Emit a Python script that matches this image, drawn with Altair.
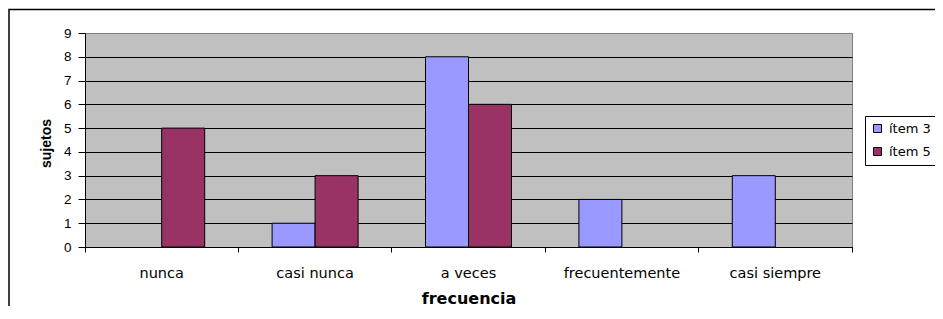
import altair as alt
import pandas as pd

categories = ["nunca", "casi nunca", "a veces", "frecuentemente", "casi siempre"]
series = ["ítem 3", "ítem 5"]
item3 = [0, 1, 8, 2, 3]
item5 = [5, 3, 6, 0, 0]
y_ticks = [0, 1, 2, 3, 4, 5, 6, 7, 8, 9]
colors = ["#9999FF", "#993366"]

rows = []
for c, a, b in zip(categories, item3, item5):
    rows.append({"frecuencia": c, "serie": series[0], "sujetos": a})
    rows.append({"frecuencia": c, "serie": series[1], "sujetos": b})
df = pd.DataFrame(rows)

W, H = 767, 214

bars = (
    alt.Chart(df)
    .transform_filter("datum.sujetos > 0")
    .mark_bar(stroke="black", strokeWidth=1)
    .encode(
        x=alt.X(
            "frecuencia:N",
            sort=categories,
            scale=alt.Scale(domain=categories, paddingInner=0, paddingOuter=0),
            axis=alt.Axis(
                title="frecuencia",
                labelAngle=0,
                bandPosition=1,
                tickExtra=True,
                tickSize=5,
                tickColor="black",
                domainColor="black",
                labelFont="DejaVu Sans",
                labelFontSize=14.5,
                labelColor="black",
                labelPadding=14,
                titleFont="DejaVu Sans",
                titleFontSize=16,
                titleFontWeight="bold",
                titleColor="black",
                titleX=W / 2,
                titleY=56,
                titleAlign="center",
                titleBaseline="alphabetic",
            ),
        ),
        xOffset=alt.XOffset(
            "serie:N",
            scale=alt.Scale(domain=series, paddingInner=0, paddingOuter=0.7837),
        ),
        y=alt.Y(
            "sujetos:Q",
            scale=alt.Scale(domain=[0, 9], nice=False),
            axis=alt.Axis(
                title="sujetos",
                values=y_ticks,
                grid=True,
                gridColor={"condition": {"test": "datum.value === 9", "value": "#808080"}, "value": "black"},
                gridWidth=1,
                tickSize=7,
                tickColor="black",
                domainColor="black",
                labelFont="Liberation Sans",
                labelFontSize=13.5,
                labelColor="black",
                labelPadding=7,
                titleFont="Liberation Sans",
                titleFontSize=14,
                titleFontWeight="bold",
                titleColor="black",
                titleAngle=270,
                titleX=-35,
                titleY=110,
                titleAlign="center",
                titleBaseline="alphabetic",
            ),
        ),
        color=alt.Color(
            "serie:N",
            scale=alt.Scale(domain=series, range=colors),
            legend=alt.Legend(
                title=None,
                orient="none",
                legendX=780,
                legendY=83,
                strokeColor="black",
                fillColor="white",
                padding=6,
                rowPadding=9,
                symbolType="square",
                symbolSize=64,
                symbolStrokeColor="black",
                symbolStrokeWidth=1,
                symbolOpacity=1,
                labelFont="DejaVu Sans",
                labelFontSize=13,
                labelColor="black",
                labelOffset=5,
            ),
        ),
    )
)

frame = (
    alt.Chart(alt.Data(values=[{"k": 1}]))
    .mark_rect(filled=False, stroke="black", strokeWidth=1.5)
    .encode(
        x=alt.value(-76),
        x2=alt.value(1500),
        y=alt.value(-23.5),
        y2=alt.value(1000),
    )
)

chart = (
    alt.layer(frame, bars)
    .properties(
        width=W,
        height=H,
        padding={"left": 77, "top": 25, "right": 83, "bottom": 59},
        autosize=alt.AutoSizeParams(type="none"),
        background="white",
    )
    .configure_view(fill="#C0C0C0", stroke="#808080", strokeWidth=1)
)

chart.save("out.html", embed_options={"renderer": "svg", "actions": False})
